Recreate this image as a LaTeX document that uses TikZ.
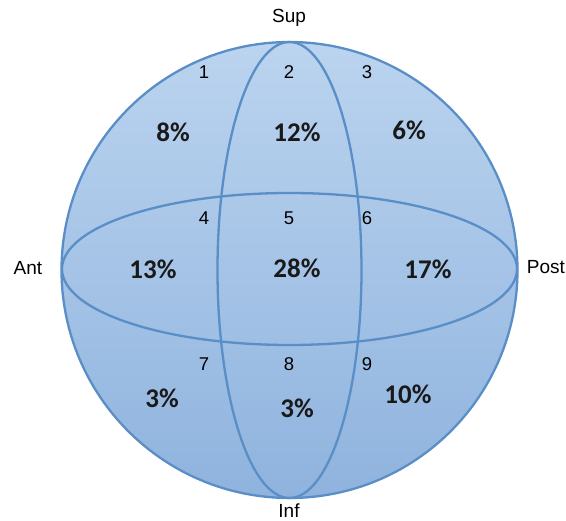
\documentclass[tikz,border=0pt]{standalone}
\usepackage{fontspec}
\setmainfont{Liberation Sans}
\newfontfamily\pctfont{Carlito}
\definecolor{topblue}{HTML}{BBD4EF}
\definecolor{botblue}{HTML}{8FB3DE}
\definecolor{lineblue}{HTML}{5A8EC6}
\begin{document}
\begin{tikzpicture}[x=1pt,y=-1pt,
  outline/.style={draw=lineblue,line width=2.3pt},
  axislabel/.style={font=\fontsize{19}{19}\selectfont,text=black,inner sep=0pt},
  regionnum/.style={font=\fontsize{18.5}{18.5}\selectfont,text=black,inner sep=0pt},
  pct/.style={font=\pctfont\bfseries\fontsize{27}{27}\selectfont,text=black!90,inner sep=0pt}]
\useasboundingbox (0,0) rectangle (566,521);
\shade[top color=topblue,bottom color=botblue] (289.5,270) circle (228);
\draw[outline] (289.5,270) circle (228);
\draw[outline] (289.5,269) ellipse (227.5 and 76);
\draw[outline] (289.5,270) ellipse (72 and 228);
\node[axislabel] (sup) at (289,18) {Sup};
\node[axislabel] (ant) at (28,268) {Ant};
\node[axislabel] (post) at (546,267) {Post};
\node[axislabel] (inf) at (289,511) {Inf};
\node[regionnum] (n1) at (204,72) {1};
\node[regionnum] (n2) at (289,72) {2};
\node[regionnum] (n3) at (367,72) {3};
\node[regionnum] (n4) at (204,218) {4};
\node[regionnum] (n5) at (289,218) {5};
\node[regionnum] (n6) at (367,218) {6};
\node[regionnum] (n7) at (204,364) {7};
\node[regionnum] (n8) at (289,364) {8};
\node[regionnum] (n9) at (367,364) {9};
\node[pct] (p1) at (173,132) {8\%};
\node[pct] (p2) at (297,132) {12\%};
\node[pct] (p3) at (409,130) {6\%};
\node[pct] (p4) at (153,269) {13\%};
\node[pct] (p5) at (297,268) {28\%};
\node[pct] (p6) at (428,269) {17\%};
\node[pct] (p7) at (162,398) {3\%};
\node[pct] (p8) at (297,408) {3\%};
\node[pct] (p9) at (408,394) {10\%};
\end{tikzpicture}
\end{document}
